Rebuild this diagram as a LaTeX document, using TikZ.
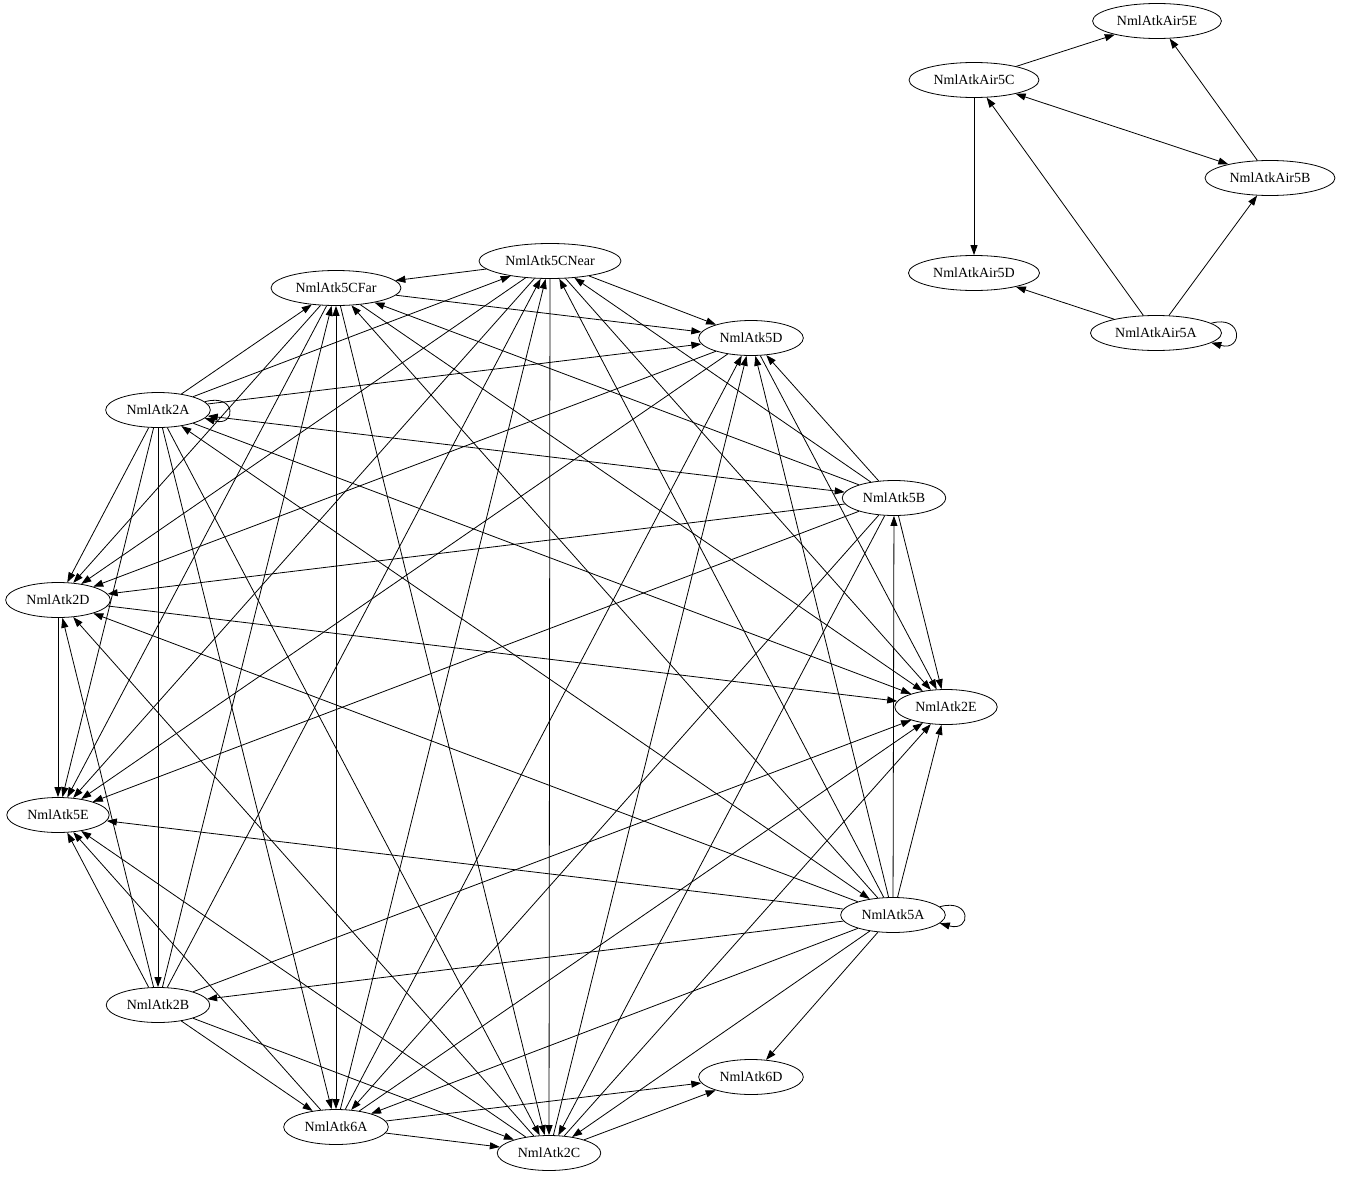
\documentclass[tikz,border=0pt]{standalone}
\usepackage{fontspec}
\setmainfont{Liberation Serif}
\usetikzlibrary{shapes.geometric,arrows.meta}

\begin{document}
\begin{tikzpicture}[x=1pt,y=-1pt,line width=0.8pt,>={Triangle[length=10pt,width=7pt]},
                    move node/.style={ellipse,draw,font=\fontsize{14}{16}\selectfont,inner xsep=5.5pt,inner ysep=0pt,minimum height=35pt}]

  \fill[white] (0,0) rectangle (1361,1186);

  % ground moves
  \node[move node] (5CNear) at (550,261) {NmlAtk5CNear};
  \node[move node] (5CFar) at (336,288) {NmlAtk5CFar};
  \node[move node] (5D) at (751,338) {NmlAtk5D};
  \node[move node] (2A) at (158,410) {NmlAtk2A};
  \node[move node] (5B) at (894,498) {NmlAtk5B};
  \node[move node] (2D) at (58,600) {NmlAtk2D};
  \node[move node] (2E) at (946,707) {NmlAtk2E};
  \node[move node] (5E) at (58,815) {NmlAtk5E};
  \node[move node] (5A) at (893,915) {NmlAtk5A};
  \node[move node] (2B) at (158,1005) {NmlAtk2B};
  \node[move node] (6D) at (751,1077) {NmlAtk6D};
  \node[move node] (6A) at (336,1127) {NmlAtk6A};
  \node[move node] (2C) at (549,1153) {NmlAtk2C};

  % air moves
  \node[move node] (Air5E) at (1157,21) {NmlAtkAir5E};
  \node[move node] (Air5C) at (974,80) {NmlAtkAir5C};
  \node[move node] (Air5B) at (1270,178) {NmlAtkAir5B};
  \node[move node] (Air5D) at (974,273) {NmlAtkAir5D};
  \node[move node] (Air5A) at (1156,333) {NmlAtkAir5A};

  \path[->]
  (2A) edge[<->] (5B)
       edge[<->] (5A)
       edge (5CFar)
       edge (5CNear)
       edge (5D)
       edge (2E)
       edge (2C)
       edge (6A)
       edge (2B)
       edge (5E)
       edge (2D)
  (5A) edge (5B)
       edge (5CFar)
       edge (5CNear)
       edge (5D)
       edge (2D)
       edge (2E)
       edge (5E)
       edge (2B)
       edge (6D)
       edge (6A)
       edge (2C)
  (5B) edge (5CFar)
       edge (5CNear)
       edge (5D)
       edge (2D)
       edge (5E)
       edge (2E)
       edge (6A)
       edge (2C)
  (2B) edge (2D)
       edge (5E)
       edge (5CFar)
       edge (5CNear)
       edge (2E)
       edge (6A)
       edge (2C)
  (6A) edge[<->] (5CFar)
       edge (5CNear)
       edge (5D)
       edge (5E)
       edge (2E)
       edge (2C)
       edge (6D)
  (2C) edge (5D)
       edge (2E)
       edge (6D)
       edge (5E)
       edge (2D)
  (5CFar) edge (5D)
       edge (2D)
       edge (5E)
       edge (2E)
       edge (2C)
  (5CNear) edge (5CFar)
       edge (5D)
       edge (2D)
       edge (5E)
       edge (2E)
       edge (2C)
  (5D) edge (2D)
       edge (5E)
       edge (2E)
  (2D) edge (5E)
       edge (2E);

  \path[->]
  (Air5C) edge[<->] (Air5B)
          edge (Air5E)
          edge (Air5D)
  (Air5B) edge (Air5E)
  (Air5A) edge (Air5C)
          edge (Air5D)
          edge (Air5B);

  % self loops
  \draw[->] (2A.10) .. controls +(32,-9) and +(32,9) .. (2A.-10);
  \draw[->] (5A.10) .. controls +(32,-9) and +(32,9) .. (5A.-10);
  \draw[->] (Air5A.10) .. controls +(32,-9) and +(32,9) .. (Air5A.-10);

\end{tikzpicture}
\end{document}
